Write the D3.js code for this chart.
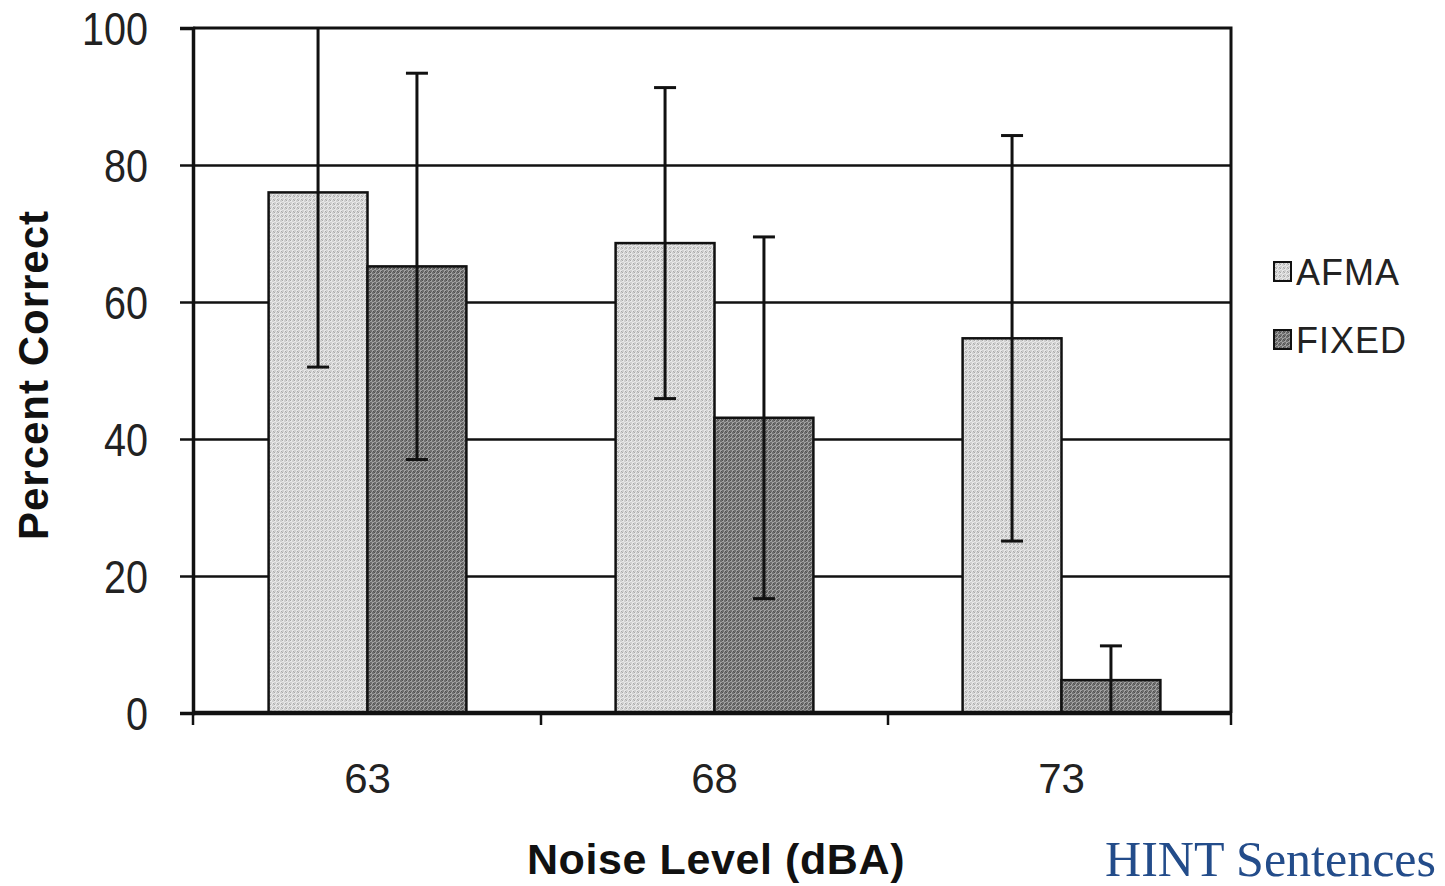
<!DOCTYPE html>
<html>
<head>
<meta charset="utf-8">
<script src="https://cdn.jsdelivr.net/npm/d3@7"></script>
<style>
  html, body { margin: 0; padding: 0; background: #fff; }
  svg { display: block; }
</style>
</head>
<body>
<svg id="chart" width="1445" height="886"></svg>
<script>
// Noise levels (dBA) and the two processing conditions
const categories = ["63", "68", "73"];
const seriesNames = ["AFMA", "FIXED"];

// Mean percent correct and error bar half-widths per condition
const afmaMeans = [76, 68.6, 54.7];
const afmaErrors = [25.5, 22.7, 29.6];
const fixedMeans = [65.2, 43.1, 4.8];
const fixedErrors = [28.2, 26.4, 5.0];

const yTicks = [0, 20, 40, 60, 80, 100];

const rows = [];
categories.forEach((c, i) => {
  rows.push({ cat: c, series: "AFMA", mean: afmaMeans[i], err: afmaErrors[i] });
  rows.push({ cat: c, series: "FIXED", mean: fixedMeans[i], err: fixedErrors[i] });
});

const svg = d3.select("#chart");
const plot = { left: 193, right: 1231, top: 28, bottom: 713 };

const x = d3.scaleBand()
  .domain(categories)
  .range([plot.left + 1, plot.right + 4])
  .paddingInner(0.43)
  .paddingOuter(0.215);
const xs = d3.scaleBand().domain(seriesNames).range([0, x.bandwidth()]);
const y = d3.scaleLinear().domain([0, 100]).range([plot.bottom, plot.top]);

// Grainy fills for the bars
const defs = svg.append("defs");
function dither(id, a, b, c) {
  const p = defs.append("pattern").attr("id", id)
    .attr("patternUnits", "userSpaceOnUse").attr("width", 4).attr("height", 4);
  p.append("rect").attr("width", 4).attr("height", 4).attr("fill", a);
  [[0,0],[2,2]].forEach(([i,j]) => p.append("rect").attr("x", i).attr("y", j).attr("width", 2).attr("height", 2).attr("fill", b));
  [[2,0],[1,3]].forEach(([i,j]) => p.append("rect").attr("x", i).attr("y", j).attr("width", 1).attr("height", 1).attr("fill", c));
}
dither("fillAFMA", "#e8e8e8", "#d0d0d0", "#a8a8a8");
dither("fillFIXED", "#a0a0a0", "#6e6e6e", "#4e4e4e");
const fills = { AFMA: "url(#fillAFMA)", FIXED: "url(#fillFIXED)" };

defs.append("clipPath").attr("id", "plotClip")
  .append("rect")
  .attr("x", plot.left).attr("y", plot.top)
  .attr("width", plot.right - plot.left).attr("height", plot.bottom - plot.top);

// Horizontal gridlines
svg.append("g")
  .attr("transform", `translate(${plot.left},0)`)
  .call(d3.axisLeft(y).tickValues(yTicks.slice(1, -1)).tickSize(-(plot.right - plot.left)).tickFormat(""))
  .call(g => g.select(".domain").remove())
  .call(g => g.selectAll("line").attr("stroke", "#111").attr("stroke-width", 2.5));

// Bars
svg.append("g").selectAll("rect")
  .data(rows).join("rect")
  .attr("x", d => x(d.cat) + xs(d.series))
  .attr("y", d => y(d.mean))
  .attr("width", xs.bandwidth())
  .attr("height", d => y(0) - y(d.mean))
  .attr("fill", d => fills[d.series])
  .attr("stroke", "#111")
  .attr("stroke-width", 2.5);

// Error bars
const eb = svg.append("g").attr("clip-path", "url(#plotClip)")
  .selectAll("g").data(rows).join("g")
  .attr("transform", d => `translate(${x(d.cat) + xs(d.series) + xs.bandwidth() / 2},0)`);
eb.append("line")
  .attr("y1", d => y(d.mean + d.err)).attr("y2", d => y(Math.max(0, d.mean - d.err)))
  .attr("stroke", "#111").attr("stroke-width", 3);
eb.append("line").attr("x1", -11).attr("x2", 11)
  .attr("y1", d => y(d.mean + d.err)).attr("y2", d => y(d.mean + d.err))
  .attr("stroke", "#111").attr("stroke-width", 3);
eb.filter(d => d.mean - d.err > 0).append("line").attr("x1", -11).attr("x2", 11)
  .attr("y1", d => y(d.mean - d.err)).attr("y2", d => y(d.mean - d.err))
  .attr("stroke", "#111").attr("stroke-width", 3);

// Plot frame: top and right borders
svg.append("path")
  .attr("d", `M${plot.left},${plot.top}H${plot.right}V${plot.bottom}`)
  .attr("fill", "none").attr("stroke", "#111").attr("stroke-width", 3);

// Y axis with labels
svg.append("g")
  .attr("transform", `translate(${plot.left},0)`)
  .call(d3.axisLeft(y).tickValues(yTicks).tickSize(13).tickFormat(d3.format("d")))
  .call(g => g.select(".domain").attr("stroke", "#111").attr("stroke-width", 3.5))
  .call(g => g.selectAll(".tick line").attr("stroke", "#111").attr("stroke-width", 2.5))
  .call(g => g.selectAll(".tick text")
    .attr("x", null).attr("dy", "0.36em")
    .attr("transform", "translate(-45,0) scale(0.86,1)")
    .attr("font-family", "Liberation Sans, Arial, sans-serif")
    .attr("font-size", 46).attr("fill", "#222").attr("text-anchor", "end"));

// X axis with labels
svg.append("g")
  .attr("transform", `translate(0,${plot.bottom})`)
  .call(d3.axisBottom(x).tickSize(0).tickPadding(0))
  .call(g => g.select(".domain").attr("d", `M${plot.left},0H${plot.right}`)
    .attr("stroke", "#111").attr("stroke-width", 4.5))
  .call(g => g.selectAll(".tick text")
    .attr("y", 50)
    .attr("font-family", "Liberation Sans, Arial, sans-serif")
    .attr("font-size", 42).attr("fill", "#222"));

// Category boundary ticks below the axis
const bounds = [plot.left, ...categories.slice(1).map(c => x(c) - x.step() * x.paddingInner() / 2), plot.right];
svg.append("g").selectAll("line").data(bounds).join("line")
  .attr("x1", d => d).attr("x2", d => d)
  .attr("y1", plot.bottom).attr("y2", plot.bottom + 12)
  .attr("stroke", "#111").attr("stroke-width", 2.5);

// Axis titles
svg.append("text")
  .attr("x", 716).attr("y", 874)
  .attr("text-anchor", "middle")
  .attr("font-family", "Liberation Sans, Arial, sans-serif")
  .attr("font-weight", "bold").attr("font-size", 43).attr("letter-spacing", 0.6).attr("fill", "#111")
  .text("Noise Level (dBA)");

svg.append("text")
  .attr("transform", "translate(48,375) rotate(-90)")
  .attr("text-anchor", "middle")
  .attr("font-family", "Liberation Sans, Arial, sans-serif")
  .attr("font-weight", "bold").attr("font-size", 42).attr("letter-spacing", 1).attr("fill", "#111")
  .text("Percent Correct");

// Legend
const legend = svg.append("g").selectAll("g")
  .data(seriesNames).join("g")
  .attr("transform", (d, i) => `translate(1274,${272 + i * 68})`);
legend.append("rect")
  .attr("x", 0).attr("y", -10).attr("width", 17).attr("height", 19)
  .attr("fill", d => fills[d]).attr("stroke", "#111").attr("stroke-width", 2);
legend.append("text")
  .attr("x", 22).attr("dy", "0.36em")
  .attr("font-family", "Liberation Sans, Arial, sans-serif")
  .attr("font-size", 36).attr("letter-spacing", 1).attr("fill", "#222")
  .text(d => d);

// Caption
svg.append("text")
  .attr("x", 1436).attr("y", 876)
  .attr("text-anchor", "end")
  .attr("font-family", "Liberation Serif, Times New Roman, serif")
  .attr("font-size", 50).attr("fill", "#234c8a")
  .text("HINT Sentences");
</script>
</body>
</html>
